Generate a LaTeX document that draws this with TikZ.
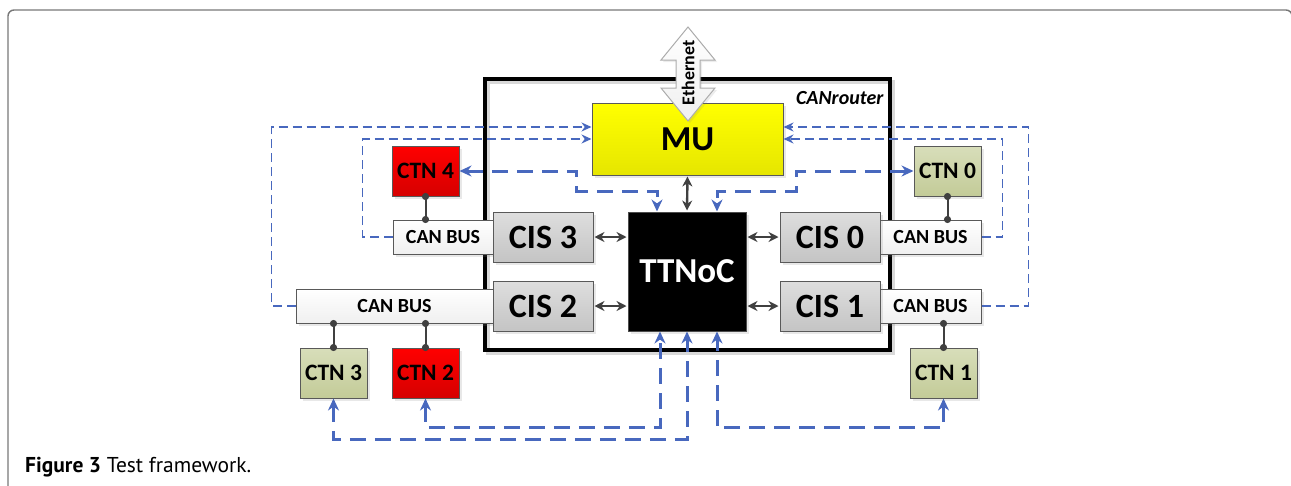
\documentclass[tikz,border=0pt]{standalone}
\usepackage{fontspec}
\setmainfont{Carlito}
\newfontfamily\capfont{PT Sans}
\usetikzlibrary{arrows.meta,shadows,calc}
\definecolor{lineblue}{RGB}{72,104,190}
\definecolor{darkline}{RGB}{64,64,64}
\definecolor{cistop}{RGB}{222,222,222}
\definecolor{cisbot}{RGB}{196,196,196}
\definecolor{olivetop}{RGB}{216,222,186}
\definecolor{olivebot}{RGB}{195,203,152}
\definecolor{redbot}{RGB}{214,0,0}
\definecolor{yeltop}{RGB}{255,255,0}
\definecolor{yelbot}{RGB}{230,230,0}
\definecolor{frameg}{RGB}{120,120,120}
\newcommand\fsz[1]{\fontsize{#1}{#1}\selectfont}
\begin{document}
\begin{tikzpicture}[x=1pt,y=-1pt,
  blk/.style={draw=gray!70!black, line width=1pt, inner sep=0pt,
    drop shadow={shadow xshift=3pt, shadow yshift=-3pt, opacity=0.18}},
  cis/.style={blk, top color=cistop, bottom color=cisbot, minimum width=100pt,
    minimum height=50pt, font=\bfseries\fsz{34}},
  canbus/.style={blk, top color=white, bottom color=gray!12, minimum height=34pt,
    font=\bfseries\fsz{20}},
  ctnred/.style={blk, top color=red, bottom color=redbot, minimum width=67pt,
    minimum height=50pt, font=\bfseries\fsz{23.5}},
  ctngreen/.style={blk, top color=olivetop, bottom color=olivebot, minimum width=67pt,
    minimum height=50pt, font=\bfseries\fsz{23.5}},
  busl/.style={draw=darkline, line width=2pt,
    arrows={Circle[length=7pt]-Circle[length=7pt]}, shorten <=-3.5pt, shorten >=-3.5pt},
  darkarr/.style={draw=darkline, line width=2.4pt,
    arrows={Stealth[length=10pt,width=10pt]-Stealth[length=10pt,width=10pt]},
    shorten <=1pt, shorten >=1pt},
  thinb/.style={draw=lineblue, line width=1.4pt, dash pattern=on 9pt off 5pt,
    arrows={-Stealth[length=10pt,width=9pt]}},
  thickb/.style={draw=lineblue, line width=3pt, dash pattern=on 16pt off 9pt,
    arrows={Stealth[length=12pt,width=11pt]-Stealth[length=12pt,width=11pt]}}
]
\useasboundingbox (0,0) rectangle (1291,485);

% outer frame
\draw[frameg, line width=1.4pt, rounded corners=6pt] (8,490) -- (8,10) -- (1292,10) -- (1292,40);

% CANrouter box
\node[draw=gray!30, line width=4pt, minimum width=405pt, minimum height=271pt, inner sep=0pt]
  (routershadow) at (690.5,217.5) {};
\node[draw=black, line width=4pt, minimum width=405pt, minimum height=271pt, inner sep=0pt]
  (router) at (687.5,214.5) {};
\node[anchor=east, font=\bfseries\itshape\fsz{20}] (routerlabel) at (887,98) {CANrouter};

% MU
\node[blk, top color=yeltop, bottom color=yelbot, minimum width=191pt, minimum height=72pt,
  font=\bfseries\fsz{35}] (mu) at (687.5,139) {MU};

% Ethernet arrow
\draw[draw=gray!65, line width=1pt, top color=white, bottom color=gray!12,
  drop shadow={shadow xshift=2pt, shadow yshift=-2pt, opacity=0.15}]
  (688,27) -- (715,60) -- (700,60) -- (700,88) -- (715,88) -- (688,121)
  -- (661,88) -- (676,88) -- (676,60) -- (661,60) -- cycle;
\node[rotate=90, font=\bfseries\fsz{18}, inner sep=0pt] (eth) at (688,73) {Ethernet};

% TTNoC
\node[blk, fill=black, draw=gray!60!black, minimum width=118pt, minimum height=119pt,
  text=white, font=\bfseries\fsz{35}] (ttnoc) at (687,271.5) {TTNoC};

% CAN buses
\node[canbus, minimum width=100pt] (cbtl) at (443,237) {CAN BUS};
\node[canbus, minimum width=101pt] (cbtr) at (930.5,237) {CAN BUS};
\node[canbus, minimum width=197pt] (cbbl) at (394.5,306) {CAN BUS};
\node[canbus, minimum width=101pt] (cbbr) at (930.5,306) {CAN BUS};

% CIS
\node[cis] (cis3) at (543,237) {CIS 3};
\node[cis] (cis0) at (830,237) {CIS 0};
\node[cis] (cis2) at (543,306) {CIS 2};
\node[cis] (cis1) at (830,306) {CIS 1};

% CTN
\node[ctnred] (ctn4) at (425.5,171) {CTN 4};
\node[ctngreen] (ctn0) at (947.5,171) {CTN 0};
\node[ctngreen] (ctn3) at (333.5,373) {CTN 3};
\node[ctnred] (ctn2) at (425.5,373) {CTN 2};
\node[ctngreen] (ctn1) at (943.5,373) {CTN 1};

% bus taps
\draw[busl] (ctn4.south) -- (ctn4.south |- cbtl.north);
\draw[busl] (ctn0.south) -- (ctn0.south |- cbtr.north);
\draw[busl] (ctn3.north) -- (ctn3.north |- cbbl.south);
\draw[busl] (ctn2.north) -- (ctn2.north |- cbbl.south);
\draw[busl] (ctn1.north) -- (ctn1.north |- cbbr.south);

% CIS <-> TTNoC, MU <-> TTNoC
\draw[darkarr] (cis3.east) -- (cis3.east -| ttnoc.west);
\draw[darkarr] (cis2.east) -- (cis2.east -| ttnoc.west);
\draw[darkarr] (cis0.west) -- (cis0.west -| ttnoc.east);
\draw[darkarr] (cis1.west) -- (cis1.west -| ttnoc.east);
\draw[darkarr] (mu.south) -- (ttnoc.north);

% thin dashed feedback to MU
\coordinate (mul1) at ($(mu.west)+(0,-12)$);
\coordinate (mur1) at ($(mu.east)+(0,-12)$);
\draw[thinb] (cbbl.west) -- ++(-24,0) |- (mul1);
\draw[thinb] (cbtl.west) -- ++(-30,0) |- (mu.west);
\draw[thinb] (cbtr.east) -- ++(21,0) |- (mu.east);
\draw[thinb] (cbbr.east) -- ++(47,0) |- (mur1);

% thick dashed TTNoC <-> CTN
\coordinate (tn1) at ($(ttnoc.north)+(-30,0)$);
\coordinate (tn2) at ($(ttnoc.north)+(30,0)$);
\coordinate (ts1) at ($(ttnoc.south)+(-27,0)$);
\coordinate (ts3) at ($(ttnoc.south)+(30,0)$);
\draw[thickb] (ctn4.east) -- ++(117,0) -- ++(0,20) -| (tn1);
\draw[thickb] (ctn0.west) -- ++(-117,0) -- ++(0,20) -| (tn2);
\draw[thickb] (ctn2.south) -- ++(0,29) -| (ts1);
\draw[thickb] (ctn3.south) -- ++(0,41) -| (ttnoc.south);
\draw[thickb] (ctn1.south) -- ++(0,29) -| (ts3);

% caption
\node[anchor=base west, inner sep=0pt, font=\capfont\fsz{21.5}] (caption) at (25,472)
  {\textbf{Figure 3} Test framework.};
\end{tikzpicture}
\end{document}
